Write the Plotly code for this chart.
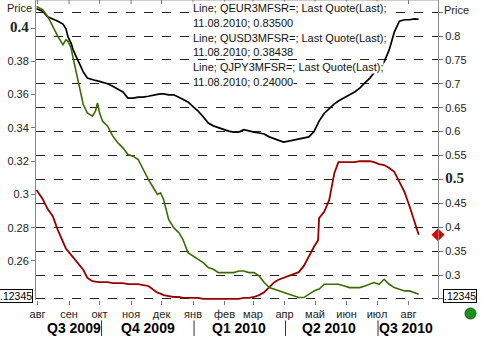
import plotly.graph_objects as go

# ---- data -------------------------------------------------------------
dates = [
    "2009-07-31", "2009-08-06", "2009-08-11", "2009-08-16", "2009-08-21", "2009-08-26",
    "2009-08-29", "2009-08-31", "2009-09-03", "2009-09-05", "2009-09-10", "2009-09-15",
    "2009-09-19", "2009-09-24", "2009-09-27", "2009-09-29", "2009-10-01", "2009-10-04",
    "2009-10-09", "2009-10-14", "2009-10-19", "2009-10-24", "2009-10-29", "2009-11-03",
    "2009-11-08", "2009-11-13", "2009-11-18", "2009-11-23", "2009-11-27", "2009-11-30",
    "2009-12-03", "2009-12-08", "2009-12-13", "2009-12-18", "2009-12-22", "2009-12-27",
    "2010-01-01", "2010-01-06", "2010-01-11", "2010-01-16", "2010-01-21", "2010-01-26",
    "2010-01-31", "2010-02-05", "2010-02-10", "2010-02-15", "2010-02-20", "2010-02-25",
    "2010-03-02", "2010-03-07", "2010-03-12", "2010-03-17", "2010-03-22", "2010-03-26",
    "2010-03-31", "2010-04-05", "2010-04-10", "2010-04-15", "2010-04-20", "2010-04-25",
    "2010-04-30", "2010-05-04", "2010-05-05", "2010-05-10", "2010-05-15", "2010-05-20",
    "2010-05-24", "2010-05-30", "2010-06-04", "2010-06-09", "2010-06-14", "2010-06-19",
    "2010-06-24", "2010-06-28", "2010-07-03", "2010-07-08", "2010-07-13", "2010-07-18",
    "2010-07-23", "2010-07-28", "2010-08-02", "2010-08-07", "2010-08-11",
]

eur_3m = [
    0.857, 0.852, 0.840, 0.836, 0.831, 0.825, 0.815, 0.798, 0.785, 0.771,
    0.746, 0.725, 0.712, 0.708, 0.707, 0.706, 0.705, 0.704, 0.700, 0.695,
    0.689, 0.683, 0.670, 0.670, 0.672, 0.672, 0.674, 0.677, 0.678, 0.679,
    0.679, 0.677, 0.677, 0.672, 0.668, 0.662, 0.652, 0.643, 0.631, 0.618,
    0.612, 0.608, 0.604, 0.601, 0.599, 0.599, 0.604, 0.601, 0.599, 0.597,
    0.595, 0.589, 0.585, 0.582, 0.578, 0.580, 0.582, 0.584, 0.587, 0.589,
    0.600, 0.618, 0.622, 0.638, 0.649, 0.658, 0.664, 0.672, 0.677, 0.683,
    0.691, 0.702, 0.712, 0.723, 0.731, 0.746, 0.771, 0.808, 0.831, 0.834,
    0.834, 0.836, 0.835,
]

usd_3m = [
    0.478, 0.459, 0.438, 0.423, 0.394, 0.367, 0.355, 0.350, 0.342, 0.338,
    0.325, 0.311, 0.294, 0.287, 0.286, 0.285, 0.285, 0.285, 0.285, 0.283,
    0.283, 0.283, 0.281, 0.281, 0.281, 0.279, 0.277, 0.269, 0.263, 0.261,
    0.258, 0.256, 0.254, 0.254, 0.252, 0.252, 0.252, 0.252, 0.250, 0.250,
    0.250, 0.250, 0.250, 0.250, 0.250, 0.250, 0.252, 0.252, 0.254, 0.258,
    0.264, 0.275, 0.285, 0.290, 0.294, 0.298, 0.302, 0.306, 0.319, 0.340,
    0.359, 0.373, 0.419, 0.432, 0.457, 0.513, 0.536, 0.536, 0.536, 0.536,
    0.538, 0.538, 0.538, 0.536, 0.532, 0.530, 0.524, 0.516, 0.495, 0.474,
    0.444, 0.411, 0.38438,
]

jpy_3m = [
    0.413, 0.411, 0.407, 0.401, 0.395, 0.390, 0.393, 0.392, 0.388, 0.382,
    0.368, 0.354, 0.349, 0.347, 0.350, 0.355, 0.349, 0.344, 0.341, 0.335,
    0.331, 0.328, 0.324, 0.323, 0.321, 0.315, 0.309, 0.304, 0.300, 0.301,
    0.297, 0.285, 0.280, 0.277, 0.273, 0.265, 0.263, 0.261, 0.259, 0.256,
    0.255, 0.253, 0.253, 0.253, 0.253, 0.254, 0.254, 0.253, 0.253, 0.251,
    0.247, 0.244, 0.243, 0.242, 0.241, 0.240, 0.239, 0.238, 0.238, 0.240,
    0.242, 0.243, 0.243, 0.246, 0.246, 0.246, 0.246, 0.245, 0.244, 0.244,
    0.244, 0.245, 0.246, 0.247, 0.246, 0.249, 0.246, 0.244, 0.243, 0.242,
    0.242, 0.241, 0.240,
]

month_ticks = [
    "2009-08-01", "2009-09-01", "2009-10-01", "2009-11-01", "2009-12-01", "2010-01-01",
    "2010-02-01", "2010-03-01", "2010-04-01", "2010-05-01", "2010-06-01", "2010-07-01",
    "2010-08-01",
]
month_labels = ["авг", "сен", "окт", "ноя", "дек", "янв", "фев", "мар", "апр", "май",
                "июн", "июл", "авг"]

quarter_labels = ["Q3 2009", "Q4 2009", "Q1 2010", "Q2 2010", "Q3 2010"]
quarter_centers = ["2009-09-06", "2009-11-18", "2010-02-15", "2010-05-15", "2010-07-30"]
quarter_bounds = ["2009-10-03", "2010-01-02", "2010-04-02", "2010-07-02"]

left_ticks = [0.26, 0.28, 0.30, 0.32, 0.34, 0.36, 0.38, 0.40]
right_levels = [0.25, 0.30, 0.35, 0.40, 0.45, 0.50, 0.55, 0.60, 0.65, 0.70, 0.75, 0.80, 0.85]
right_labelled = [0.30, 0.35, 0.40, 0.45, 0.50, 0.55, 0.60, 0.65, 0.70, 0.75, 0.80]

legend_lines = [
    "Line; QEUR3MFSR=; Last Quote(Last);",
    "11.08.2010; 0.83500",
    "Line; QUSD3MFSR=; Last Quote(Last);",
    "11.08.2010; 0.38438",
    "Line; QJPY3MFSR=; Last Quote(Last);",
    "11.08.2010; 0.24000",
]

# ---- styling ----------------------------------------------------------
FONT = "Liberation Sans, Arial, sans-serif"
BOLD_SERIF = '<span style="font-family:Liberation Serif;font-size:15px;font-weight:bold">{}</span>'
X_RANGE = ["2009-07-30 12:00", "2010-08-30"]
LEFT_RANGE = [0.23654, 0.41683]
RIGHT_RANGE = [0.24770, 0.87531]


def fmt_tick(v, bold_at, shown=None):
    if shown is not None and not any(abs(v - s) < 1e-9 for s in shown):
        return ""
    s = f"{v:g}"
    return BOLD_SERIF.format(s) if abs(v - bold_at) < 1e-9 else s


fig = go.Figure()

# right-hand price scale is the primary y axis (carries the dashed grid);
# the left-hand scale for the JPY series is overlaid as y2.
fig.add_trace(go.Scatter(x=dates, y=jpy_3m, mode="lines", yaxis="y2",
                         line=dict(color="#3a6b00", width=1.6), name="QJPY3MFSR="))
fig.add_trace(go.Scatter(x=dates, y=usd_3m, mode="lines", yaxis="y",
                         line=dict(color="#980000", width=1.8), name="QUSD3MFSR="))
fig.add_trace(go.Scatter(x=dates, y=eur_3m, mode="lines", yaxis="y",
                         line=dict(color="#000000", width=1.7), name="QEUR3MFSR="))

# last-value marker of the USD series on the right scale
fig.add_trace(go.Scatter(x=[X_RANGE[1]], y=[usd_3m[-1]], mode="markers", yaxis="y",
                         cliponaxis=False, showlegend=False, hoverinfo="skip",
                         marker=dict(symbol="diamond", size=10, color="#e00000",
                                     line=dict(width=0))))

axis_font = dict(family=FONT, size=11, color="#222222")

fig.update_layout(
    width=488, height=342,
    margin=dict(l=36, r=50, t=0, b=42),
    paper_bgcolor="white", plot_bgcolor="white",
    showlegend=False,
    xaxis=dict(
        type="date", range=X_RANGE, tickvals=month_ticks, ticktext=month_labels,
        ticks="outside", ticklen=4, tickcolor="#777777", showgrid=False,
        showline=False, zeroline=False, tickfont=axis_font,
    ),
    yaxis=dict(
        range=RIGHT_RANGE, side="right", anchor="x",
        tickmode="array", tickvals=right_levels,
        ticktext=[fmt_tick(v, 0.50, right_labelled) for v in right_levels],
        ticks="outside", ticklen=4, tickcolor="#777777",
        showgrid=True, gridcolor="#222222", gridwidth=1, griddash="dash",
        showline=True, linecolor="#888888", linewidth=1, zeroline=False,
        tickfont=axis_font,
    ),
    yaxis2=dict(
        range=LEFT_RANGE, overlaying="y", side="left", anchor="x",
        tickmode="array", tickvals=left_ticks,
        ticktext=[fmt_tick(v, 0.40) for v in left_ticks],
        ticks="outside", ticklen=4, tickcolor="#777777", showgrid=False,
        showline=True, linecolor="#888888", linewidth=1, zeroline=False,
        tickfont=axis_font,
    ),
)

annotations = []
# axis captions
annotations.append(dict(text="Price", xref="paper", yref="paper", x=-0.005, y=0.975,
                        xanchor="right", yanchor="middle", showarrow=False,
                        font=dict(family=FONT, size=11, color="#222222")))
annotations.append(dict(text="Price", xref="paper", yref="paper", x=1.01, y=0.967,
                        xanchor="left", yanchor="middle", showarrow=False,
                        font=dict(family=FONT, size=11, color="#222222")))

# series captions
for i, line in enumerate(legend_lines):
    annotations.append(dict(text=line, xref="paper", yref="paper", x=0.388,
                            y=1 - (8.5 + 14.6 * i) / 300, xanchor="left", yanchor="middle",
                            showarrow=False, bgcolor="white", borderpad=0,
                            font=dict(family=FONT, size=11, color="#111111")))

# quarter labels under the month ticks
for lab, xc in zip(quarter_labels, quarter_centers):
    annotations.append(dict(text=f"<b>{lab}</b>", xref="x", yref="paper", x=xc,
                            y=-0.093, xanchor="center", yanchor="middle", showarrow=False,
                            font=dict(family=FONT, size=14, color="#000000")))

# crosshair value boxes
for xp, anchor in [(-0.008, "right"), (1.012, "left")]:
    annotations.append(dict(text=".12345", xref="paper", yref="paper", x=xp, y=0.0133,
                            xanchor=anchor, yanchor="middle", showarrow=False,
                            bgcolor="white", bordercolor="#000000", borderwidth=1,
                            borderpad=0,
                            font=dict(family=FONT, size=10.5, color="#000000")))

shapes = []
# quarter separators
for xb in quarter_bounds:
    shapes.append(dict(type="line", xref="x", yref="paper", x0=xb, x1=xb,
                       y0=-0.068, y1=-0.12, line=dict(color="#333333", width=1)))

# top frame with inward month ticks
shapes.append(dict(type="line", xref="paper", yref="paper", x0=0, x1=1, y0=1, y1=1,
                   line=dict(color="#999999", width=1)))
for mt in month_ticks:
    shapes.append(dict(type="line", xref="x", yref="paper", x0=mt, x1=mt,
                       y0=1, y1=1 - 4 / 300, line=dict(color="#777777", width=1)))

# status indicator dot
shapes.append(dict(type="circle", xref="paper", yref="paper",
                   x0=(465 - 36) / 402, x1=(476 - 36) / 402,
                   y0=(300 - 319) / 300, y1=(300 - 308) / 300,
                   fillcolor="#1f8f1f", line=dict(color="#0b5e0b", width=1)))

fig.update_layout(annotations=annotations, shapes=shapes)

fig.write_html("out.html")
